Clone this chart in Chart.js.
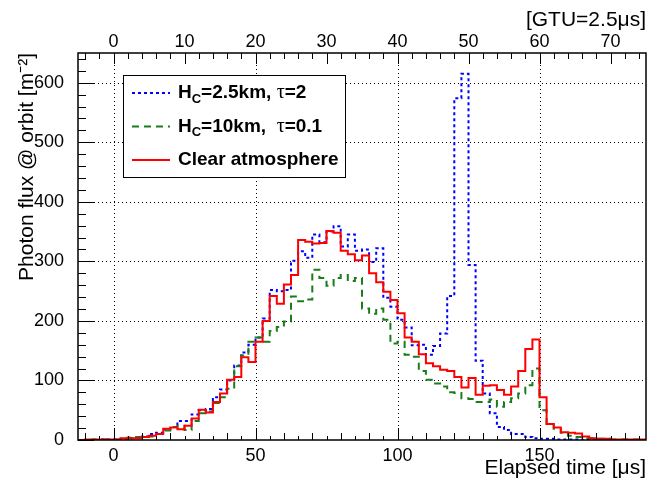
<!DOCTYPE html>
<html>
<head>
<meta charset="utf-8">
<script src="https://cdn.jsdelivr.net/npm/chart.js@4.4.1/dist/chart.umd.min.js"></script>
<style>
  html, body { margin: 0; padding: 0; background: #fff; }
  canvas { display: block; }
</style>
</head>
<body>
<canvas id="flux" width="661" height="490"></canvas>
<script>
// histogram bins: 2.5 us wide (1 GTU), first bin starts at -12.5 us
const binStart = -12.5;
const binWidth = 2.5;

// H_C=2.5km, tau=2
const cloudLow = [0, 0, 0, 1, 1, 1, 2, 3, 4, 6,
  10, 12, 18, 22, 32, 32, 43, 50, 52, 72,
  85, 100, 125, 147, 160, 172, 204, 252, 250, 252,
  301, 317, 306, 345, 332, 350, 359, 325, 345, 318,
  320, 299, 322, 239, 224, 202, 189, 159, 160, 143,
  158, 179, 242, 574, 615, 294, 133, 78, 45, 22,
  17, 10, 10, 5, 3, 2, 2, 1, 1, 1,
  1, 0, 0, 0, 0, 0, 0, 0, 0, 0];

// H_C=10km, tau=0.1
const cloudHigh = [0, 0, 1, 1, 1, 1, 2, 4, 5, 6,
  6, 10, 16, 22, 24, 17, 32, 45, 48, 62,
  72, 86, 124, 142, 165, 172, 165, 183, 190, 199,
  241, 233, 236, 286, 272, 259, 272, 277, 267, 272,
  221, 212, 221, 202, 162, 165, 143, 140, 116, 101,
  95, 90, 80, 79, 70, 69, 64, 64, 68, 56,
  64, 70, 78, 92, 120, 50, 27, 19, 12, 7,
  5, 3, 3, 2, 2, 1, 1, 1, 1, 1];

// clear atmosphere
const clearSky = [0, 1, 1, 1, 1, 1, 3, 3, 3, 5,
  7, 10, 19, 21, 18, 24, 36, 51, 46, 64,
  78, 101, 106, 139, 131, 165, 200, 242, 229, 261,
  277, 336, 333, 330, 331, 351, 348, 318, 312, 302,
  310, 280, 265, 249, 235, 213, 172, 165, 144, 129,
  124, 118, 116, 106, 88, 104, 76, 91, 92, 84,
  76, 90, 116, 153, 169, 72, 27, 21, 13, 12,
  11, 6, 3, 2, 2, 1, 1, 1, 1, 1];

const timeTicks = [0, 50, 100, 150];
const gtuTicks = [0, 10, 20, 30, 40, 50, 60, 70];
const fluxTicks = [0, 100, 200, 300, 400, 500, 600];

const FONT = "'Liberation Sans', Arial, Helvetica, sans-serif";

// one point per bin edge, drawn as steps
function toSteps(values) {
  const pts = values.map((v, i) => ({ x: binStart + i * binWidth, y: v }));
  pts.push({ x: binStart + values.length * binWidth, y: values[values.length - 1] });
  return pts;
}

// dotted grid behind the histograms
const gridPlugin = {
  id: 'rootGrid',
  beforeDatasetsDraw(chart) {
    const { ctx, chartArea: a, scales } = chart;
    ctx.save();
    ctx.strokeStyle = '#000';
    ctx.lineWidth = 1;
    ctx.setLineDash([1, 3]);
    ctx.beginPath();
    timeTicks.forEach(v => {
      const px = Math.round(scales.x.getPixelForValue(v)) + 0.5;
      ctx.moveTo(px, a.top);
      ctx.lineTo(px, a.bottom);
    });
    fluxTicks.forEach(v => {
      if (v === 0) return;
      const py = Math.round(scales.y.getPixelForValue(v)) + 0.5;
      ctx.moveTo(a.left, py);
      ctx.lineTo(a.right, py);
    });
    ctx.stroke();
    ctx.restore();
  }
};

function drawRich(ctx, parts, x, y) {
  parts.forEach(p => {
    if (p.sub) {
      ctx.font = 'bold 13px ' + FONT;
      ctx.fillText(p.t, x, y + 6);
    } else if (p.greek) {
      ctx.font = "20px 'Liberation Serif', 'DejaVu Serif', serif";
      ctx.fillText(p.t, x, y);
    } else {
      ctx.font = 'bold 19px ' + FONT;
      ctx.fillText(p.t, x, y);
    }
    x += ctx.measureText(p.t).width;
  });
}

// inside ticks, frame and legend box
const framePlugin = {
  id: 'rootFrame',
  afterDraw(chart) {
    const { ctx, chartArea: a, scales } = chart;
    const xs = scales.x, ys = scales.y, gs = scales.gtu;
    ctx.save();
    ctx.strokeStyle = '#000';
    ctx.lineWidth = 1;
    ctx.beginPath();
    for (let v = 0; v <= ys.max; v += 20) {
      const py = Math.round(ys.getPixelForValue(v)) + 0.5;
      const len = v % 100 === 0 ? 16 : 8;
      ctx.moveTo(a.left, py);
      ctx.lineTo(a.left + len, py);
    }
    for (let v = -10; v <= xs.max; v += 5) {
      const px = Math.round(xs.getPixelForValue(v)) + 0.5;
      const len = v % 50 === 0 ? 12 : (v % 10 === 0 ? 7 : 4);
      ctx.moveTo(px, a.bottom);
      ctx.lineTo(px, a.bottom - len);
    }
    for (let v = -4; v <= gs.max; v += 2) {
      const px = Math.round(gs.getPixelForValue(v)) + 0.5;
      const len = v % 10 === 0 ? 11 : 6;
      ctx.moveTo(px, a.top);
      ctx.lineTo(px, a.top + len);
    }
    ctx.stroke();
    ctx.lineWidth = 1.5;
    ctx.strokeRect(a.left, a.top, a.right - a.left, a.bottom - a.top);

    // legend
    const box = { x: 123.5, y: 75.5, w: 222, h: 102 };
    ctx.fillStyle = '#fff';
    ctx.fillRect(box.x, box.y, box.w, box.h);
    ctx.lineWidth = 1;
    ctx.strokeRect(box.x, box.y, box.w, box.h);
    const rows = [
      { color: '#0000ff', dash: [3, 3], parts: [{ t: 'H' }, { t: 'C', sub: true }, { t: '=2.5km, ' }, { t: 'τ', greek: true }, { t: '=2' }] },
      { color: '#1a7d1a', dash: [7, 5], parts: [{ t: 'H' }, { t: 'C', sub: true }, { t: '=10km,  ' }, { t: 'τ', greek: true }, { t: '=0.1' }] },
      { color: '#ff0000', dash: [], parts: [{ t: 'Clear atmosphere' }] }
    ];
    ctx.textBaseline = 'middle';
    ctx.textAlign = 'left';
    rows.forEach((r, i) => {
      const cy = 93 + i * 33.5;
      ctx.strokeStyle = r.color;
      ctx.lineWidth = 2;
      ctx.setLineDash(r.dash);
      ctx.beginPath();
      ctx.moveTo(132, cy);
      ctx.lineTo(170, cy);
      ctx.stroke();
      ctx.setLineDash([]);
      ctx.fillStyle = '#000';
      drawRich(ctx, r.parts, 178, cy);
    });
    ctx.restore();
  }
};

Chart.defaults.font.family = FONT;
Chart.defaults.font.size = 18;
Chart.defaults.color = '#000';

const titleFont = { size: 21 };

new Chart(document.getElementById('flux'), {
  type: 'line',
  data: {
    datasets: [
      {
        label: 'H_C=2.5km, tau=2',
        data: toSteps(cloudLow),
        borderColor: '#0000ff',
        borderWidth: 2,
        borderDash: [3, 3],
        stepped: 'before',
        pointRadius: 0,
        fill: false,
        order: 3
      },
      {
        label: 'H_C=10km, tau=0.1',
        data: toSteps(cloudHigh),
        borderColor: '#1a7d1a',
        borderWidth: 2,
        borderDash: [7, 5],
        stepped: 'before',
        pointRadius: 0,
        fill: false,
        order: 2
      },
      {
        label: 'Clear atmosphere',
        data: toSteps(clearSky),
        borderColor: '#ff0000',
        borderWidth: 2,
        stepped: 'before',
        pointRadius: 0,
        fill: false,
        order: 1
      }
    ]
  },
  options: {
    responsive: false,
    animation: false,
    devicePixelRatio: 1,
    layout: { padding: { left: 0, right: 15, top: 0, bottom: 0 } },
    plugins: { legend: { display: false }, tooltip: { enabled: false } },
    scales: {
      x: {
        type: 'linear',
        position: 'bottom',
        min: -12.5,
        max: 187.5,
        grid: { display: false },
        border: { display: false },
        afterBuildTicks: s => { s.ticks = timeTicks.map(v => ({ value: v })); },
        ticks: { padding: -3, maxRotation: 0, autoSkip: false, callback: v => String(v) },
        title: { display: true, text: 'Elapsed time [μs]', align: 'end', font: titleFont, padding: { top: 0, bottom: 9 } },
        afterFit: s => { s.height = 50; }
      },
      gtu: {
        type: 'linear',
        position: 'top',
        min: -5,
        max: 75,
        grid: { display: false },
        border: { display: false },
        afterBuildTicks: s => { s.ticks = gtuTicks.map(v => ({ value: v })); },
        ticks: { padding: -8, maxRotation: 0, autoSkip: false, callback: v => String(v) },
        title: { display: true, text: '[GTU=2.5μs]', align: 'end', font: titleFont, padding: { top: 8, bottom: 0 } },
        afterFit: s => { s.height = 53; }
      },
      y: {
        type: 'linear',
        position: 'left',
        min: 0,
        max: 650,
        grid: { display: false },
        border: { display: false },
        afterBuildTicks: s => { s.ticks = fluxTicks.map(v => ({ value: v })); },
        ticks: { padding: 6, autoSkip: false, callback: v => String(v) },
        title: { display: true, text: 'Photon flux @ orbit [m⁻²]', align: 'end', font: titleFont, padding: { top: 15, bottom: 0 } },
        afterFit: s => { s.width = 78; }
      }
    }
  },
  plugins: [gridPlugin, framePlugin]
});
</script>
</body>
</html>
